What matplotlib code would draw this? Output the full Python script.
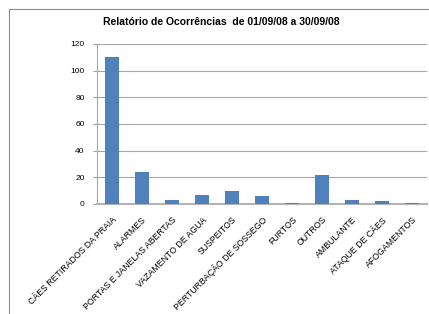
import numpy as np
import matplotlib.pyplot as plt
from matplotlib.lines import Line2D

categorias = ['CÃES RETIRADOS DA PRAIA', 'ALARMES', 'PORTAS E JANELAS ABERTAS',
              'VAZAMENTO DE AGUA', 'SUSPEITOS', 'PERTURBAÇÃO DE SOSSEGO', 'FURTOS',
              'OUTROS', 'AMBULANTE', 'ATAQUE DE CÃES', 'AFOGAMENTOS']
ocorrencias = [110, 24, 3, 7, 10, 6, 1, 22, 3, 2, 1]
y_ticks = [0, 20, 40, 60, 80, 100, 120]

plt.rcParams['font.family'] = ['Liberation Sans', 'DejaVu Sans']

W, H = 429, 314
fig = plt.figure(figsize=(W / 100, H / 100), dpi=100)
ax = fig.add_axes([97 / W, 110 / H, 330 / W, 160 / H])

x = np.arange(len(categorias))
ax.bar(x, ocorrencias, width=0.45, color='#4f81bd', zorder=3)
ax.set_xlim(-0.5, len(categorias) - 0.5)
ax.set_ylim(0, 120)
ax.set_yticks(y_ticks)
ax.tick_params(axis='y', labelsize=6, length=3, color='#a0a0a0', pad=6)
ax.set_xticks(x)
ax.set_xticklabels(categorias, rotation=45, ha='right', rotation_mode='anchor', fontsize=6.3)
ax.tick_params(axis='x', length=0, pad=8)
ax.grid(axis='y', color='#a6a6a6', linewidth=0.8, zorder=0)
for s in ['top', 'right']:
    ax.spines[s].set_visible(False)
ax.spines['left'].set_color('#a6a6a6')
ax.spines['left'].set_linewidth(0.8)
ax.spines['bottom'].set_color('#b3b3b3')
ax.spines['bottom'].set_linewidth(1.5)

fig.text(221 / W, 1 - 22 / H, 'Relatório de Ocorrências  de 01/09/08 a 30/09/08',
         ha='center', va='center', fontsize=7.5, fontweight='bold')

# moldura do gráfico
fig.add_artist(Line2D([9 / W, 9 / W], [0, 1 - 9 / H], color='#8c8c8c', linewidth=0.8,
                      transform=fig.transFigure))
fig.add_artist(Line2D([9 / W, 1], [1 - 9 / H, 1 - 9 / H], color='#8c8c8c', linewidth=0.8,
                      transform=fig.transFigure))

fig.savefig('out.png', dpi=100)
